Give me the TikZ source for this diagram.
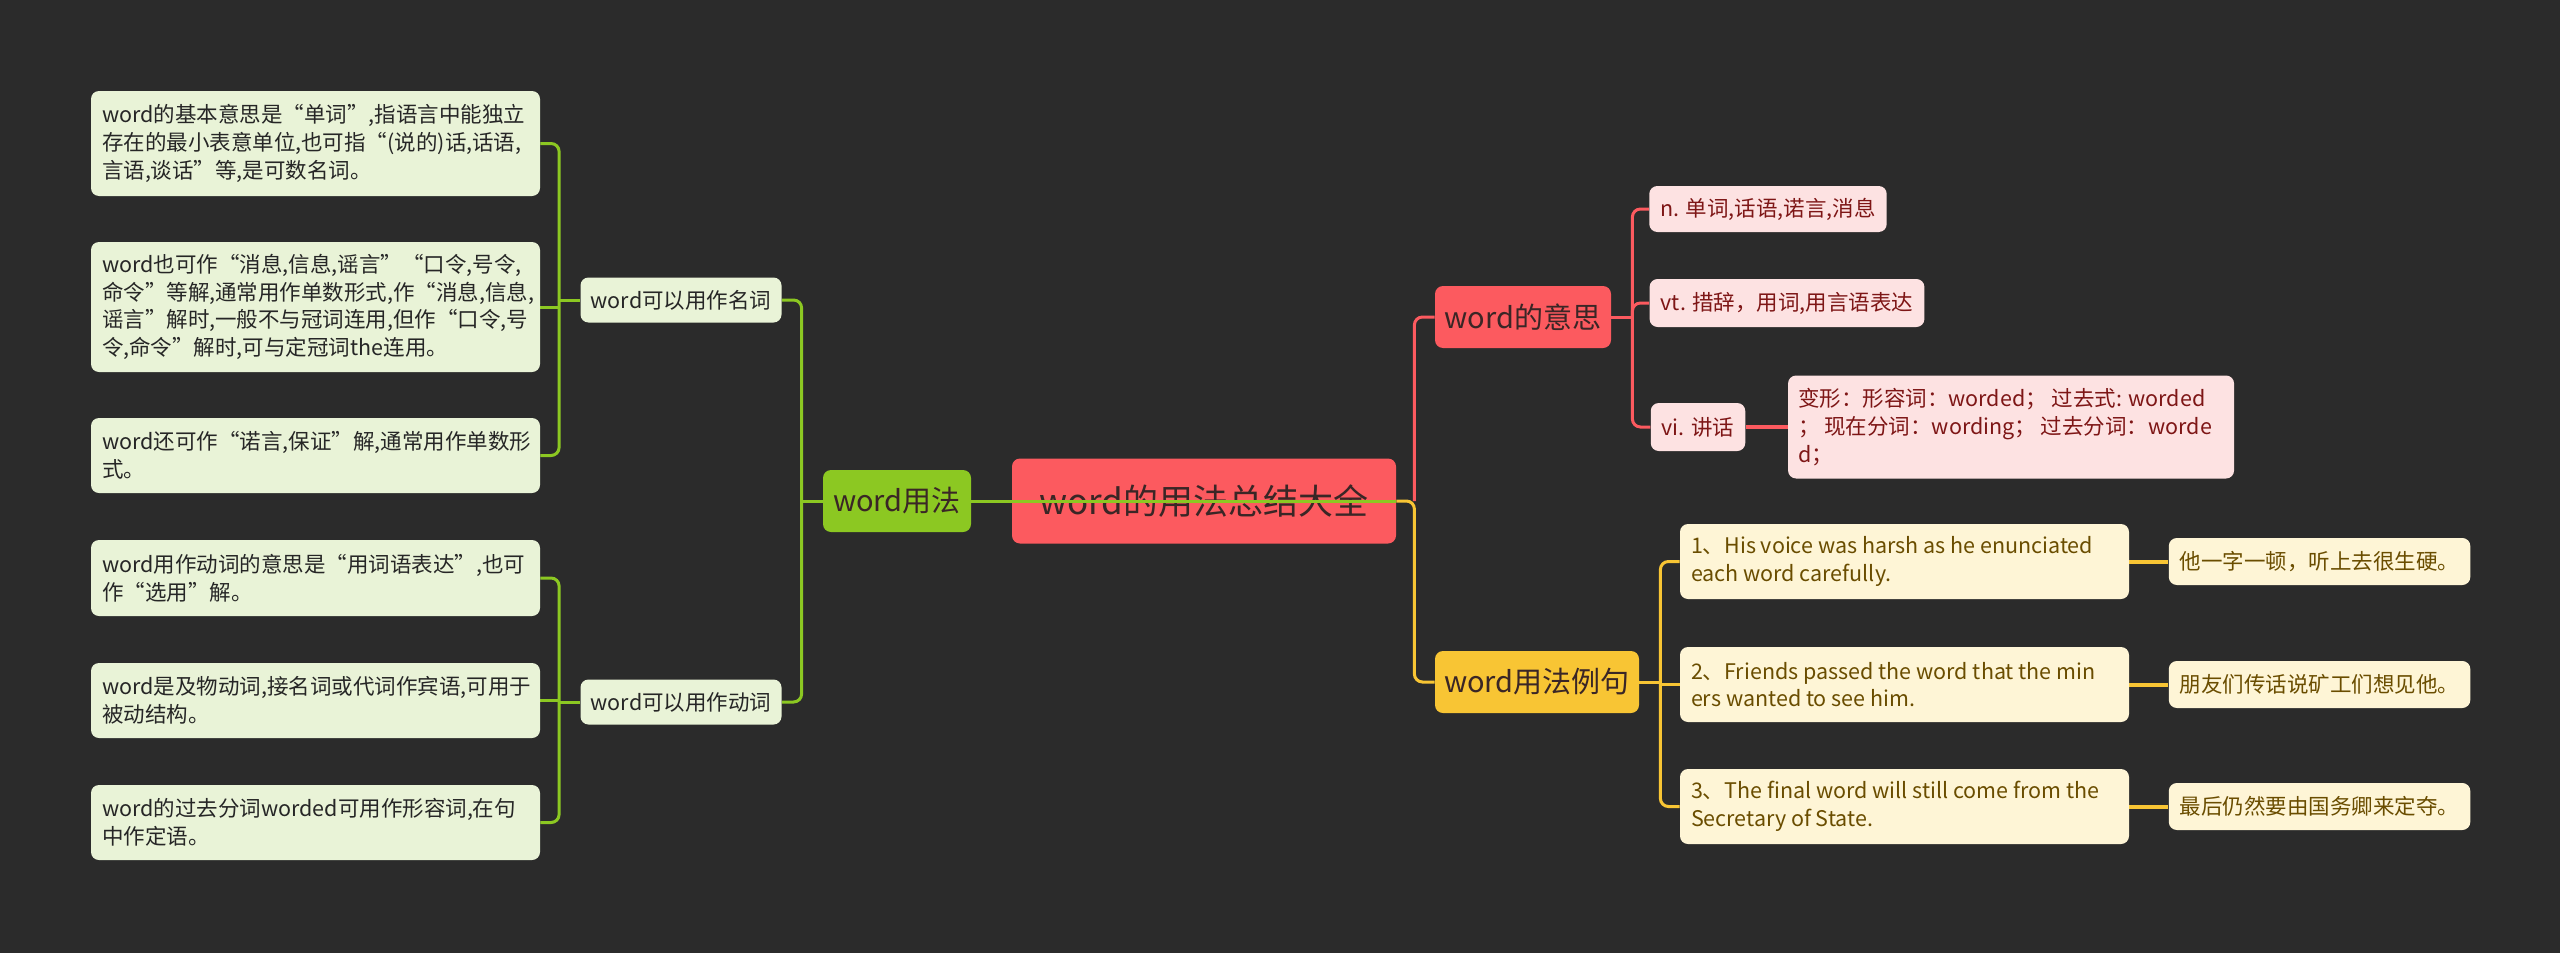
\documentclass[tikz,border=0pt]{standalone}
\usepackage{fontspec}
\setmainfont{Noto Sans CJK SC}
\usepackage{tikz}
\usetikzlibrary{positioning,calc,backgrounds}
\definecolor{bgdark}{HTML}{2B2B2B}
\definecolor{rootred}{HTML}{FC5A5F}
\definecolor{brgreen}{HTML}{8CC822}
\definecolor{bryellow}{HTML}{F8C534}
\definecolor{lfgreen}{HTML}{E9F3D7}
\definecolor{lfred}{HTML}{FDE2E2}
\definecolor{lfyellow}{HTML}{FEF5D6}
\definecolor{inkdark}{HTML}{262626}
\definecolor{inkred}{HTML}{7E1616}
\definecolor{inkbrown}{HTML}{6A4D00}
\definecolor{inkroot}{HTML}{3A2626}
\tikzset{
  topic/.style={rounded corners=4pt,fill=#1,inner sep=0pt,text=inkroot,font=\fontsize{14.5}{16}\selectfont},
  sub/.style={rounded corners=4pt,fill=lfgreen,inner sep=0pt,text=inkdark,minimum width=100.5pt,minimum height=22.5pt,font=\fontsize{10.75}{12}\selectfont},
  leaf/.style={rounded corners=4pt,fill=#1,inner xsep=5.5pt,inner ysep=0pt,align=flush left,font=\fontsize{10.75}{13.9}\selectfont},
  leafg/.style={leaf=lfgreen,text=inkdark,text width=213.5pt},
  leafr/.style={leaf=lfred,text=inkred},
  leafy/.style={leaf=lfyellow,text=inkbrown},
  conn/.style={draw=#1,line width=1.5pt,rounded corners=4pt},
  link/.style={draw=#1,line width=2pt},
}

\begin{document}
\begin{tikzpicture}[x=0.5pt,y=-0.5pt]
 % centre and main branches
 \node[topic=rootred,minimum width=192pt,minimum height=42.5pt,font=\fontsize{17.5}{19}\selectfont] (root) at (1204,501) {word的用法总结大全};
 \node[topic=brgreen,minimum width=74pt,minimum height=31pt] (usage) at (897,501) {word用法};
 \node[topic=rootred,minimum width=88pt,minimum height=31pt] (meaning) at (1523,317) {word的意思};
 \node[topic=bryellow,minimum width=102pt,minimum height=31pt] (example) at (1537,682) {word用法例句};
 \node[sub] (noun) at (681,300) {word可以用作名词};
 \node[sub] (verb) at (681,702) {word可以用作动词};

 % left leaves
 \node[leafg,minimum height=52.5pt] (n1) at (315.5,143.5) {word的基本意思是“单词”,指语言中能独立\\存在的最小表意单位,也可指“(说的)话,话语,\\言语,谈话”等,是可数名词。};
 \node[leafg,minimum height=65pt] (n2) at (315.5,307) {word也可作“消息,信息,谣言”“口令,号令,\\命令”等解,通常用作单数形式,作“消息,信息,\\谣言”解时,一般不与冠词连用,但作“口令,号\\令,命令”解时,可与定冠词the连用。};
 \node[leafg,minimum height=37.5pt] (n3) at (315.5,455.5) {word还可作“诺言,保证”解,通常用作单数形\\式。};
 \node[leafg,minimum height=38pt] (v1) at (315.5,578) {word用作动词的意思是“用词语表达”,也可\\作“选用”解。};
 \node[leafg,minimum height=37.5pt] (v2) at (315.5,700.5) {word是及物动词,接名词或代词作宾语,可用于\\被动结构。};
 \node[leafg,minimum height=37.5pt] (v3) at (315.5,822.5) {word的过去分词worded可用作形容词,在句\\中作定语。};

 % meanings
 \node[leafr,minimum width=116pt,minimum height=23pt] (mn) at (1768,209) {n. 单词,话语,诺言,消息};
 \node[leafr,minimum width=135pt,minimum height=24pt] (mvt) at (1787,303) {vt. 措辞，用词,用言语表达};
 \node[leafr,minimum width=46pt,minimum height=24pt] (mvi) at (1698,427) {vi. 讲话};
 \node[leafr,text width=213pt,inner xsep=5pt,minimum height=51.5pt,right=21pt of mvi] (forms) {变形：形容词：worded；\ 过去式: worded\\；\ 现在分词：wording；\ 过去分词：worde\\d；};

 % examples
 \node[leafy,text width=213.5pt,minimum height=37.5pt] (ex1) at (1904.5,561.5) {1、His voice was harsh as he enunciated\\each word carefully.};
 \node[leafy,text width=213.5pt,minimum height=37.5pt] (ex2) at (1904.5,684.5) {2、Friends passed the word that the min\\ers wanted to see him.};
 \node[leafy,text width=213.5pt,minimum height=37.5pt] (ex3) at (1904.5,806.5) {3、The final word will still come from the\\Secretary of State.};
 \node[leafy,minimum width=149.5pt,minimum height=23.5pt,right=19.5pt of ex1] (tr1) {他一字一顿，听上去很生硬。};
 \node[leafy,minimum width=149.5pt,minimum height=23.5pt,right=19.5pt of ex2] (tr2) {朋友们传话说矿工们想见他。};
 \node[leafy,minimum width=149.5pt,minimum height=23.5pt,right=19.5pt of ex3] (tr3) {最后仍然要由国务卿来定夺。};

 \coordinate (usp) at ($(usage.west)+(-21,0)$);
 \coordinate (nsp) at ($(noun.west)+(-21,0)$);
 \coordinate (vsp) at ($(verb.west)+(-21,0)$);
 \coordinate (rsp) at ($(root.east)+(18,0)$);
 \coordinate (msp) at ($(meaning.east)+(21,0)$);
 \coordinate (esp) at ($(example.east)+(21,0)$);

 \begin{scope}[on background layer]
  \fill[bgdark] (0,0) rectangle (2560,953);
  \draw[conn=bryellow] (root.east) -- (rsp) |- (example.west);
  \draw[conn=rootred] (rsp) |- (meaning.west);
  \draw[conn=brgreen] (usage.west) -- (usp);
  \draw[conn=brgreen] (usp) |- (noun.east);
  \draw[conn=brgreen] (usp) |- (verb.east);
  \draw[conn=brgreen] (noun.west) -- (nsp);
  \draw[conn=brgreen] (nsp) |- (n1.east);
  \draw[conn=brgreen] (nsp |- n2.east) -- (n2.east);
  \draw[conn=brgreen] (nsp) |- (n3.east);
  \draw[conn=brgreen] (verb.west) -- (vsp);
  \draw[conn=brgreen] (vsp) |- (v1.east);
  \draw[conn=brgreen] (vsp |- v2.east) -- (v2.east);
  \draw[conn=brgreen] (vsp) |- (v3.east);
  \draw[conn=rootred] (meaning.east) -- (msp);
  \draw[conn=rootred] (msp) |- (mn.west);
  \draw[conn=rootred] (msp) |- (mvt.west);
  \draw[conn=rootred] (msp) |- (mvi.west);
  \draw[link=rootred] (mvi) -- (forms);
  \draw[conn=bryellow] (example.east) -- (esp);
  \draw[conn=bryellow] (esp) |- (ex1.west);
  \draw[conn=bryellow] (esp |- ex2.west) -- (ex2.west);
  \draw[conn=bryellow] (esp) |- (ex3.west);
  \draw[link=bryellow] (ex1) -- (tr1);
  \draw[link=bryellow] (ex2) -- (tr2);
  \draw[link=bryellow] (ex3) -- (tr3);
 \end{scope}
 % the green branch runs over the centre box
 \draw[conn=brgreen] (root.east) -- (usage.east);
\end{tikzpicture}
\end{document}
